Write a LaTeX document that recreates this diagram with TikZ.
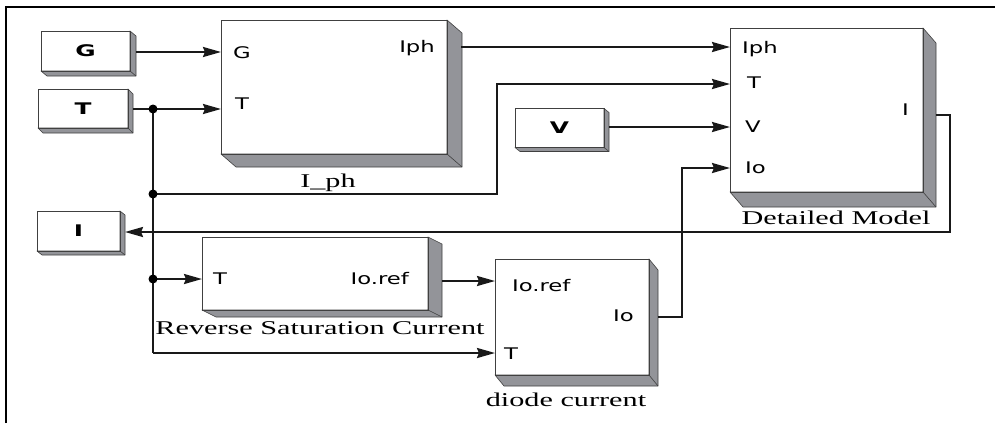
\documentclass[tikz,border=0pt]{standalone}
\usepackage{fontspec}
\usepackage{graphicx}
\setmainfont{Liberation Serif}
\newfontfamily\portsans{DejaVu Sans}
\usetikzlibrary{arrows.meta}
\newcommand\sx[1]{\scalebox{1.55}[1]{#1}}
\newcommand\px[1]{\scalebox{1.42}[1]{#1}}
\newcommand\blockshade[3]{%
  \filldraw[shadefill] (#1.north east) -- ([shift={(#2,#3)}]#1.north east) -- ([shift={(#2,#3)}]#1.south east)
    -- ([shift={(#2,#3)}]#1.south west) -- (#1.south west) -- (#1.south east) -- cycle;
  \draw[shadeline] (#1.south east) -- ([shift={(#2,#3)}]#1.south east);
  \draw[shadeline] (#1.south west) rectangle (#1.north east);}
\definecolor{shadegrey}{HTML}{939499}
\begin{document}
\begin{tikzpicture}[x=1pt,y=-1pt,
  blk/.style={draw=black!70,line width=0.6pt,fill=white,inner sep=0pt,outer sep=0pt},
  shadefill/.style={fill=shadegrey,draw=black!75,line width=0.6pt,line join=round},
  shadeline/.style={draw=black!75,line width=0.6pt},
  wire/.style={line width=2.3pt,draw=black!90},
  arr/.style={wire,-{Stealth[length=18pt,width=10pt,inset=2pt]}},
  port/.style={inner sep=0pt,font=\portsans\fontsize{16}{18}\selectfont},
  srclab/.style={inner sep=0pt,font=\portsans\bfseries\fontsize{16}{18}\selectfont},
  blkname/.style={inner sep=0pt,font=\fontsize{19.5}{22}\selectfont},
  dot/.style={circle,fill=black,inner sep=0pt,minimum size=9pt}]
\useasboundingbox (0,0) rectangle (995,423);
\draw[line width=2.2pt] (6,423) -- (6,7) -- (995,7);

% blocks
\node[blk,minimum width=89pt,minimum height=40pt] (Gs) at (85.5,51) {};
\node[blk,minimum width=90pt,minimum height=39pt] (Ts) at (83,108.5) {};
\node[blk,minimum width=226pt,minimum height=134pt] (Iph) at (334,87) {};
\node[blk,minimum width=89pt,minimum height=39pt] (Vs) at (559.5,128) {};
\node[blk,minimum width=193pt,minimum height=164pt] (Det) at (826.5,110) {};
\node[blk,minimum width=83pt,minimum height=40pt] (Is) at (78.5,231) {};
\node[blk,minimum width=226pt,minimum height=73pt] (Rev) at (315,273.5) {};
\node[blk,minimum width=154pt,minimum height=116pt] (Dio) at (572,317) {};
\blockshade{Gs}{6}{5}
\blockshade{Ts}{5}{5}
\blockshade{Iph}{15}{13}
\blockshade{Vs}{5}{4}
\blockshade{Det}{13}{15}
\blockshade{Is}{5}{4}
\blockshade{Rev}{14}{7}
\blockshade{Dio}{9}{11}

% source labels
\node[srclab] at (Gs.center) {\sx{G}};
\node[srclab] at (Ts.center) {\sx{T}};
\node[srclab] at (Vs.center) {\sx{V}};
\node[srclab] at (Is.center) {\sx{I}};

% port labels
\node[port,anchor=west] at (233,53) {\px{G}};
\node[port,anchor=west] at (235,104) {\px{T}};
\node[port,anchor=east] at (435,48) {\px{Iph}};
\node[port,anchor=west] at (742,49) {\px{Iph}};
\node[port,anchor=west] at (747,83) {\px{T}};
\node[port,anchor=west] at (745,127) {\px{V}};
\node[port,anchor=west] at (745,168) {\px{Io}};
\node[port,anchor=east] at (909,110) {\px{I}};
\node[port,anchor=west] at (213,279) {\px{T}};
\node[port,anchor=east] at (409,279) {\px{Io.ref}};
\node[port,anchor=west] at (512,286) {\px{Io.ref}};
\node[port,anchor=east] at (634,316) {\px{Io}};
\node[port,anchor=west] at (504,354) {\px{T}};

% block names
\node[blkname] at (328,183) {\sx{I\_ph}};
\node[blkname] at (836,218) {\sx{Detailed Model}};
\node[blkname] at (320,328) {\sx{Reverse Saturation Current}};
\node[blkname] at (566,400) {\sx{diode current}};

% port coordinates
\coordinate (Gout) at (136,52);
\coordinate (IphG) at (Iph.west |- Gout);
\coordinate (Tout) at (133,109);
\coordinate (IphT) at (Iph.west |- Tout);
\coordinate (J1) at (153,109);
\coordinate (J2) at (153,194);
\coordinate (J3) at (153,279);
\coordinate (J4) at (153,353);
\coordinate (IphOut) at (461,47);
\coordinate (DetIph) at (Det.west |- IphOut);
\coordinate (DetT) at (Det.west |- 0,84);
\coordinate (Vout) at (609,127);
\coordinate (DetV) at (Det.west |- Vout);
\coordinate (DetIo) at (Det.west |- 0,168);
\coordinate (DetOut) at (936,115);
\coordinate (Iin) at (125,232);
\coordinate (RevT) at (Rev.west |- J3);
\coordinate (RevOut) at (442,281);
\coordinate (DioRef) at (Dio.west |- RevOut);
\coordinate (DioT) at (Dio.west |- J4);
\coordinate (DioOut) at (658,317);

% wires
\draw[arr] (Gout) -- (IphG);
\draw[arr] (Tout) -- (IphT);
\draw[wire] (J1) -- (J4);
\draw[arr] (J2) -- (497,194) -- (497,84) -- (DetT);
\draw[arr] (J3) -- (RevT);
\draw[arr] (J4) -- (DioT);
\draw[arr] (IphOut) -- (DetIph);
\draw[arr] (Vout) -- (DetV);
\draw[arr] (DetOut) -- (950,115) -- (950,232) -- (Iin);
\draw[arr] (RevOut) -- (DioRef);
\draw[arr] (DioOut) -- (682,317) -- (682,168) -- (DetIo);
\node[dot] at (J1) {};
\node[dot] at (J2) {};
\node[dot] at (J3) {};
\end{tikzpicture}
\end{document}
